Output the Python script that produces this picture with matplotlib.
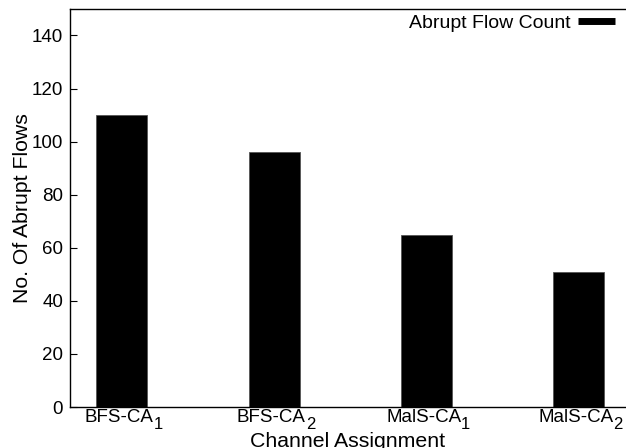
import matplotlib
matplotlib.use("Agg")
import matplotlib.pyplot as plt
from matplotlib.lines import Line2D

plt.rcParams['font.family'] = ['Liberation Sans', 'DejaVu Sans']

# Values
categories = ["BFS-CA", "BFS-CA", "MalS-CA", "MalS-CA"]
subscripts = ["1", "2", "1", "2"]
abrupt_flows = [110, 96, 65, 51]
yticks = [0, 20, 40, 60, 80, 100, 120, 140]

fig = plt.figure(figsize=(6.26, 4.48), dpi=100)
ax = fig.add_axes([0.1118, 0.0915, 0.8882, 0.8885])

x = list(range(len(categories)))
ax.bar(x, abrupt_flows, width=0.335, color="black", edgecolor="#555555", linewidth=0.6)

ax.set_xlim(-0.34, 3.31)
ax.set_ylim(0, 150)
ax.set_yticks(yticks)
ax.set_xticks(x)
ax.set_xticklabels([])
ax.tick_params(axis="y", direction="in", length=5, width=0.8, labelsize=13.5, pad=5)
ax.tick_params(axis="x", length=0)
ax.spines["right"].set_visible(False)
for s in ["left", "top", "bottom"]:
    ax.spines[s].set_linewidth(1.0)

# gnuplot-style tick labels: subscript nearly full size and dropped low
for i, (name, sub) in enumerate(zip(categories, subscripts)):
    t = ax.annotate(name, xy=(i, 0), xycoords=("data", "axes fraction"),
                    xytext=(-2, -1.5), textcoords="offset points",
                    ha="center", va="top", fontsize=13.5)
    ax.annotate(sub, xy=(1, 0), xycoords=t, xytext=(0, -4.5),
                textcoords="offset points", ha="left", va="bottom", fontsize=12)

ax.set_ylabel("No. Of Abrupt Flows", fontsize=15.3, labelpad=0)
ax.set_xlabel("Channel Assignment", fontsize=15.3, va="top")
ax.xaxis.set_label_coords(0.5, -0.063)

handle = Line2D([0], [0], color="black", linewidth=5, solid_capstyle="butt")
ax.legend([handle], ["Abrupt Flow Count"], loc="upper right", frameon=False,
          markerfirst=False, fontsize=14, handlelength=1.9, handletextpad=0.4,
          bbox_to_anchor=(1.001, 1.015), borderaxespad=0.2)

fig.savefig("out.png", dpi=100)
